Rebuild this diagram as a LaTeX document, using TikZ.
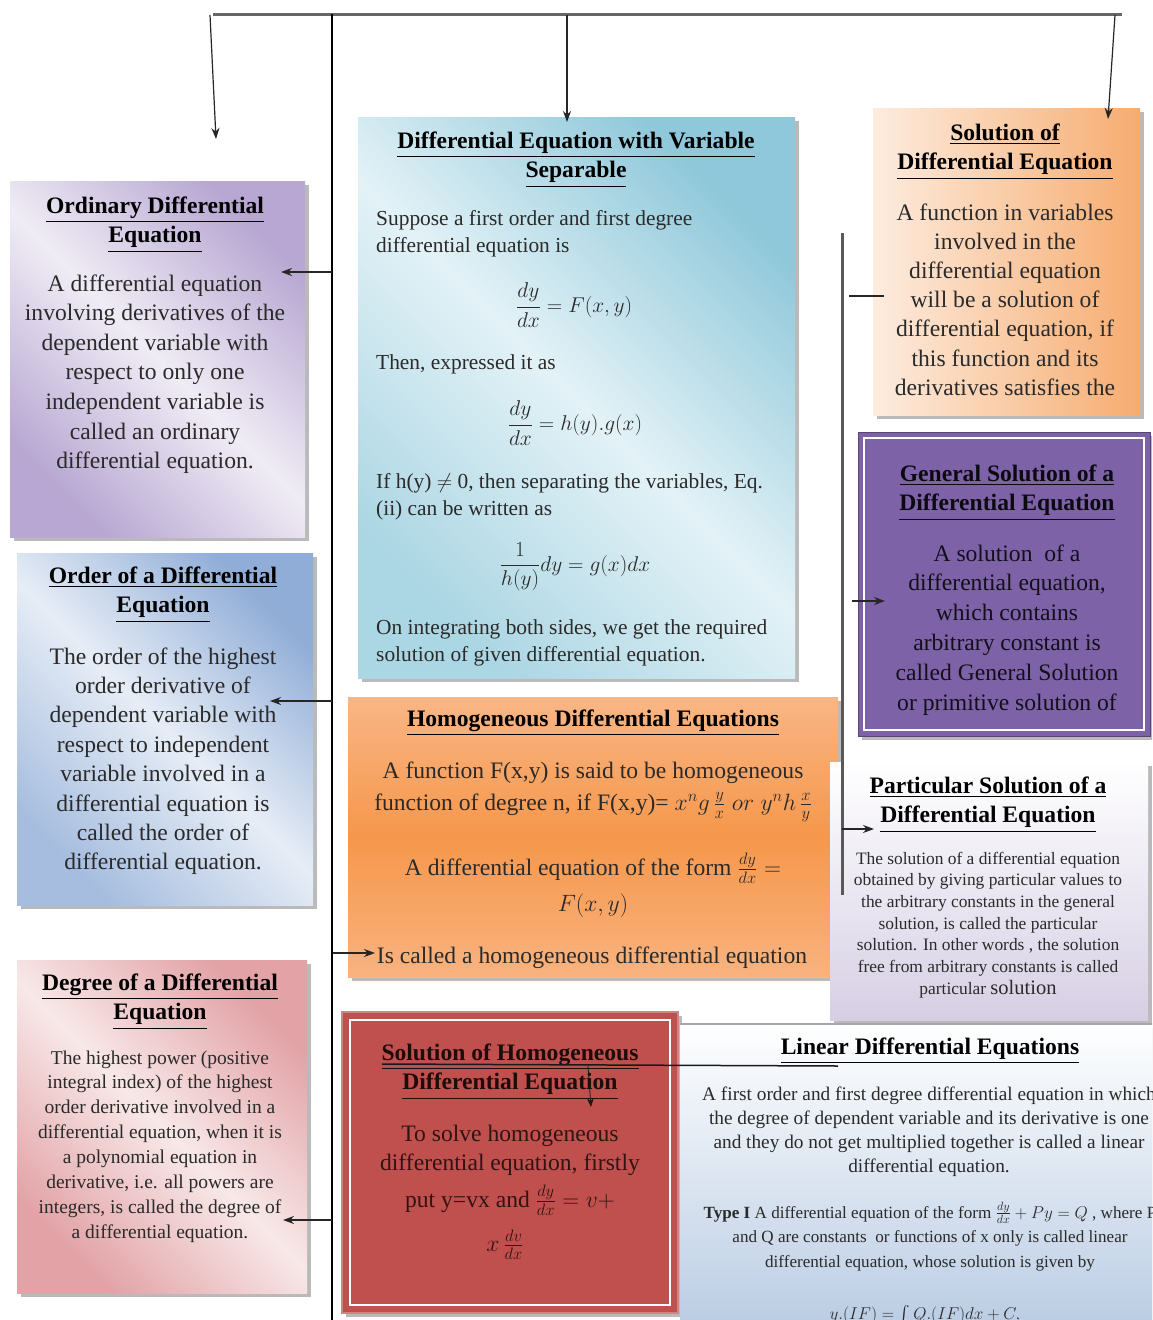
\documentclass[tikz,border=0pt]{standalone}
\usepackage{fix-cm}
\usepackage{amsmath}
\usepackage{fontspec}
\setmainfont{Liberation Serif}
\usetikzlibrary{arrows.meta,shadows}

\definecolor{odeP}{HTML}{B7A7D2}
\definecolor{odeL}{HTML}{F0ECF5}
\definecolor{ordB}{HTML}{90ADD7}
\definecolor{ordL}{HTML}{E6EDF6}
\definecolor{degP}{HTML}{E2A2A6}
\definecolor{degL}{HTML}{F8E8E8}
\definecolor{varA}{HTML}{8FC8DA}
\definecolor{varL}{HTML}{E3F2F7}
\definecolor{solL}{HTML}{FDECDF}
\definecolor{solR}{HTML}{F6AC70}
\definecolor{genP}{HTML}{7E62A8}
\definecolor{homA}{HTML}{F9B685}
\definecolor{homB}{HTML}{F6974B}
\definecolor{parB}{HTML}{D6CFE4}
\definecolor{shR}{HTML}{C0504D}
\definecolor{linB}{HTML}{B8CBE3}
\definecolor{txt}{HTML}{2A2A2A}

\newcommand\ttl[1]{\underline{#1}}
\newcommand\myTitle{\fontsize{23.6}{29.6}\selectfont\bfseries}
\newcommand\myBody{\fontsize{23.6}{29.6}\selectfont}
\newcommand\myVar{\fontsize{21.4}{27}\selectfont}

\begin{document}
\begin{tikzpicture}[x=1pt,y=-1pt,
  box/.style={anchor=north west, inner sep=0pt, outer sep=0pt, draw=none,
    drop shadow={shadow xshift=4pt, shadow yshift=-4pt, opacity=0.45, fill=black!60}},
  ttlnode/.style={anchor=base, align=center, inner sep=0pt, font=\myTitle, text=black},
  bodynode/.style={anchor=base, align=center, inner sep=0pt, font=\myBody, text=txt},
  eqnode/.style={anchor=center, inner sep=0pt, font=\myVar, text=txt},
  arr/.style={-{Stealth[length=11pt,width=8pt]}, line width=1.2pt, black!85},
  trunk/.style={line width=1.8pt, black},
  grayline/.style={line width=3pt, black!60},
]
\useasboundingbox (0,0) rectangle (1152,1320);
\clip (0,0) rectangle (1152,1320);

% ---------------- boxes ----------------
\node[box, minimum width=295pt, minimum height=356pt,
  top color=odeP, bottom color=odeP, middle color=odeL, shading angle=-45] (ode) at (10,181) {};
\node[box, minimum width=296pt, minimum height=352pt,
  top color=ordB, bottom color=ordB!80!white, middle color=ordL, shading angle=-45] (ord) at (17,553) {};
\node[box, minimum width=290pt, minimum height=333pt,
  top color=degP, bottom color=degP, middle color=degL, shading angle=-45] (deg) at (17,960) {};
\node[box, minimum width=437pt, minimum height=561pt,
  top color=varA, bottom color=varA!75!white, middle color=varL, shading angle=-45] (var) at (358,117) {};
\node[box, minimum width=267pt, minimum height=307pt,
  left color=solL, right color=solR] (sol) at (873,108) {};
\node[box, minimum width=292pt, minimum height=304pt, fill=genP, draw=genP!70!black, line width=1pt] (gen) at (858,432) {};
\draw[white, line width=1.5pt] ([shift={(6,6)}]gen.north west) rectangle ([shift={(-6,-6)}]gen.south east);
\node[box, minimum width=490pt, minimum height=280pt,
  top color=homA, bottom color=homA!90!homB, middle color=homB] (hom) at (348,697) {};
\node[box, minimum width=318pt, minimum height=258pt,
  top color=white, bottom color=parB] (par) at (830,762) {};
\node[box, minimum width=336pt, minimum height=301pt, fill=shR, draw=shR!70!white, line width=2pt] (shm) at (342,1012) {};
\draw[white, line width=2pt] ([shift={(8,8)}]shm.north west) rectangle ([shift={(-8,-8)}]shm.south east);
\node[box, minimum width=480pt, minimum height=310pt,
  top color=white, bottom color=linB] (lin) at (680,1024) {};
\draw[black!35, line width=2pt] (lin.north west) -- (lin.north east);

% ---------------- texts (anchor = baseline of last line) ----------------
% Ordinary DE
\node[ttlnode] (odeT) at (155,242.6) {\ttl{Ordinary Differential}\\\ttl{Equation}};
\node[bodynode] (odeB) at (155,468.6) {A differential equation\\involving derivatives of the\\dependent variable with\\respect to only one\\independent variable is\\called an ordinary\\differential equation.};

% Order
\node[ttlnode] (ordT) at (163,612.6) {\ttl{Order of a Differential}\\\ttl{Equation}};
\node[bodynode, font=\fontsize{23.6}{29.4}\selectfont] (ordB) at (163,869.8) {The order of the highest\\order derivative of\\dependent variable with\\respect to independent\\variable involved in a\\differential equation is\\called the order of\\differential equation.};

% Degree
\node[ttlnode] (degT) at (160,1019.6) {\ttl{Degree of a Differential}\\\ttl{Equation}};
\node[bodynode, font=\fontsize{19.5}{24.9}\selectfont] (degB) at (160,1238.3) {The highest power (positive\\integral index) of the highest\\order derivative involved in a\\differential equation, when it is\\a polynomial equation in\\derivative, i.e. all powers are\\integers, is called the degree of\\a differential equation.};

% Variable separable
\node[ttlnode] (varT) at (576,177.6) {\ttl{Differential Equation with Variable}\\\ttl{Separable}};
\node[bodynode, anchor=base west, align=left, font=\myVar] (varB1) at (376,252) {Suppose a first order and first degree\\differential equation is};
\node[eqnode] (varE1) at (574,305) {$\displaystyle\frac{dy}{dx}=F(x,y)$};
\node[bodynode, anchor=base west, align=left, font=\myVar] (varB2) at (376,369) {Then, expressed it as};
\node[eqnode] (varE2) at (575,423) {$\displaystyle\frac{dy}{dx}=h(y).g(x)$};
\node[bodynode, anchor=base west, align=left, font=\myVar] (varB3) at (376,515) {If h(y) $\neq$ 0, then separating the variables, Eq.\\(ii) can be written as};
\node[eqnode] (varE3) at (575,567) {$\displaystyle\frac{1}{h(y)}dy=g(x)dx$};
\node[bodynode, anchor=base west, align=left, font=\myVar] (varB4) at (376,661) {On integrating both sides, we get the required\\solution of given differential equation.};

% Solution of DE
\node[ttlnode] (solT) at (1005,169.6) {\ttl{Solution of}\\\ttl{Differential Equation}};
\node[bodynode, font=\fontsize{23.6}{29.2}\selectfont] (solB) at (1005,395.2) {A function in variables\\involved in the\\differential equation\\will be a solution of\\differential equation, if\\this function and its\\derivatives satisfies the};

% General solution
\node[ttlnode, text=black!90!genP] (genT) at (1007,510.6) {\ttl{General Solution of a}\\\ttl{Differential Equation}};
\node[bodynode, text=black!85!genP, font=\fontsize{23.6}{29.8}\selectfont] (genB) at (1007,710) {A solution\enspace of a\\differential equation,\\which contains\\arbitrary constant is\\called General Solution\\or primitive solution of};

% Homogeneous
\node[ttlnode] (homT) at (593,726) {\ttl{Homogeneous Differential Equations}};
\node[bodynode] (homB1) at (593,778) {A function F(x,y) is said to be homogeneous};
\node[bodynode] (homB2) at (593,810) {function of degree n, if F(x,y)= $x^n g\,\frac{y}{x}\;or\;y^n h\,\frac{x}{y}$};
\node[bodynode] (homB3) at (593,875) {A differential equation of the form $\frac{dy}{dx}=$};
\node[bodynode] (homB4) at (593,911) {$F(x,y)$};
\node[bodynode] (homB5) at (592,963) {Is called a homogeneous differential equation};

% Particular solution
\node[ttlnode] (parT) at (988,822.6) {\ttl{Particular Solution of a}\\\ttl{Differential Equation}};
\node[bodynode, font=\fontsize{17.4}{21.7}\selectfont] (parB) at (988,994.2) {The solution of a differential equation\\obtained by giving particular values to\\the arbitrary constants in the general\\solution, is called the particular\\solution. In other words , the solution\\free from arbitrary constants is called\\particular {\fontsize{20.5}{21.7}\selectfont solution}};

% Solution of homogeneous
\node[ttlnode, text=black!85!shR] (shmT) at (510,1089.6) {\ttl{Solution of Homogeneous}\\\ttl{Differential Equation}};
\node[bodynode, text=black!75!shR] (shmB1) at (510,1170.6) {To solve homogeneous\\differential equation, firstly};
\node[bodynode, text=black!75!shR] (shmB2) at (510,1207) {put y=vx and $\frac{dy}{dx}=v+$};
\node[bodynode, text=black!75!shR] (shmB3) at (505,1251) {$x\,\frac{dv}{dx}$};

% Linear
\node[ttlnode] (linT) at (930,1054) {\ttl{Linear Differential Equations}};
\node[bodynode, font=\fontsize{19.3}{24}\selectfont] (linB) at (929,1172) {A first order and first degree differential equation in which\\the degree of dependent variable and its derivative is one\\and they do not get multiplied together is called a linear\\differential equation.};
\node[bodynode, font=\fontsize{17.1}{24.5}\selectfont] (linC) at (930,1267) {\textbf{Type I} A differential equation of the form $\frac{dy}{dx}+Py=Q$ , where P\\and Q are constants\ \ or functions of x only is called linear\\differential equation, whose solution is given by};
\node[bodynode, font=\fontsize{17.1}{24}\selectfont] (linE) at (925,1319) {$y.(IF)=\int Q.(IF)dx+C,$};

% ---------------- connectors ----------------
\coordinate (topL) at (213,14);
\coordinate (topR) at (1122,14);
\draw[grayline] (topL) -- (topR);

\coordinate (t1) at (210,15);  \coordinate (odeTip) at (216,139);
\coordinate (t2) at (567,15);  \coordinate (varTip) at (567,122);
\coordinate (t3) at (1115,15); \coordinate (solTip) at (1108,119);
\draw[arr] (t1) -- (odeTip);
\draw[arr] (t2) -- (varTip);
\draw[arr] (t3) -- (solTip);

\coordinate (trTop) at (332,14);
\coordinate (trBot) at (332,1320);
\draw[trunk] (trTop) -- (trBot);

\coordinate (k1) at (332,272);  \coordinate (odeIn) at (281,272);
\coordinate (k2) at (332,701);  \coordinate (ordIn) at (270,701);
\coordinate (k3) at (332,1220); \coordinate (degIn) at (283,1220);
\coordinate (k4) at (333,953);  \coordinate (homIn) at (375,953);
\draw[arr] (k1) -- (odeIn);
\draw[arr] (k2) -- (ordIn);
\draw[arr] (k3) -- (degIn);
\draw[arr] (k4) -- (homIn);

\coordinate (rTop) at (842,233);
\coordinate (rBot) at (842,895);
\draw[grayline, black!65] (rTop) -- (rBot);
\coordinate (r1a) at (849,296); \coordinate (r1b) at (884,296);
\draw[line width=1.3pt, black!85] (r1a) -- (r1b);
\coordinate (r2a) at (852,601); \coordinate (genIn) at (885,601);
\draw[arr] (r2a) -- (genIn);
\coordinate (r3a) at (842,829); \coordinate (parIn) at (874,829);
\draw[arr] (r3a) -- (parIn);

\coordinate (hA) at (382,1064);
\coordinate (hB) at (838,1066);
\draw[line width=1.5pt, black!90] (hA) -- (hB);
\coordinate (hC) at (588,1066);
\coordinate (hD) at (591,1107);
\draw[-{Stealth[length=9pt,width=7pt]}, line width=0.8pt, black!90] (hC) -- (hD);
\end{tikzpicture}
\end{document}
